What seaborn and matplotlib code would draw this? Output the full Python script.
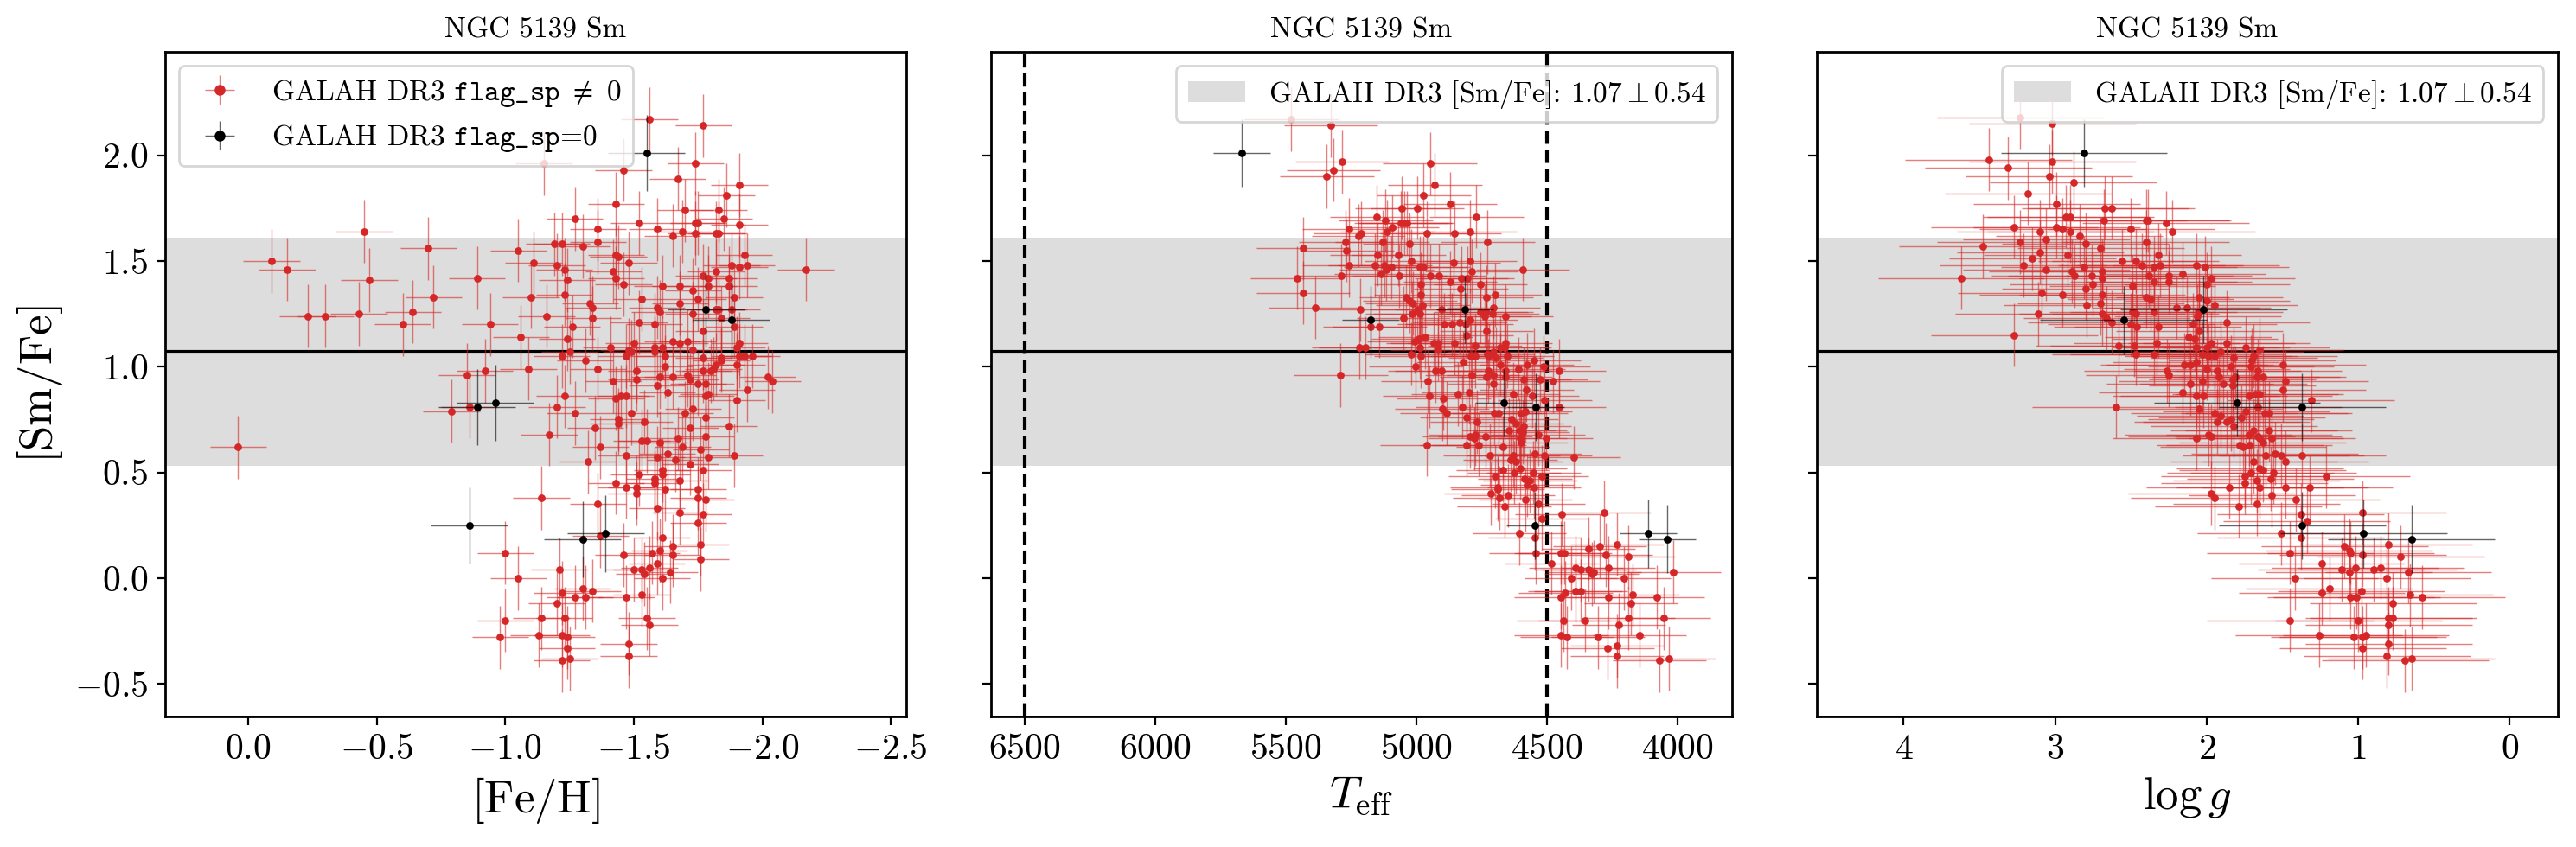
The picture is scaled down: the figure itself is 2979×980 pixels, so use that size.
import numpy as np
import pandas as pd
import matplotlib
matplotlib.use('Agg')
import matplotlib.pyplot as plt
import seaborn as sns
from matplotlib.colors import to_rgba
from matplotlib.lines import Line2D
from matplotlib.legend_handler import HandlerTuple

# ---- data ----
# GALAH DR3 mean [Sm/Fe] and spread
sm_mean = 1.07
sm_std = 0.54

# [Fe/H] vs [Sm/Fe], flag_sp != 0
feh_red = [
    (-1.56, 2.17), (-1.77, 2.14), (-1.15, 1.96), (-1.74, 1.96), (-1.46, 1.93), (-1.67, 1.89), (-1.91, 1.86),
    (-1.86, 1.81), (-1.43, 1.77), (-1.70, 1.74), (-1.83, 1.74), (-1.27, 1.70), (-1.85, 1.70), (-1.52, 1.68),
    (-1.74, 1.68), (-1.75, 1.68), (-1.91, 1.67), (-1.36, 1.65), (-1.59, 1.65), (-1.69, 1.64), (-1.74, 1.63),
    (-1.82, 1.63), (-1.83, 1.63), (-1.65, 1.62), (-0.45, 1.64), (-0.09, 1.50), (-0.15, 1.46), (-0.70, 1.56),
    (-0.47, 1.41), (-1.19, 1.58), (-1.22, 1.58), (-1.30, 1.57), (-1.36, 1.59), (-1.05, 1.55), (-1.11, 1.49),
    (-1.43, 1.53), (-1.44, 1.52), (-1.48, 1.49), (-1.93, 1.53), (-1.88, 1.48), (-1.91, 1.47), (-1.94, 1.48),
    (-2.17, 1.46), (-1.20, 1.48), (-1.23, 1.46), (-1.42, 1.45), (-1.82, 1.45), (-1.77, 1.43), (-1.79, 1.42),
    (-1.87, 1.42), (-1.43, 1.42), (-1.24, 1.41), (-0.89, 1.42), (-1.46, 1.39), (-1.61, 1.38), (-1.68, 1.38),
    (-1.79, 1.38), (-1.87, 1.38), (-1.73, 1.36), (-1.23, 1.34), (-1.10, 1.33), (-0.72, 1.33), (-1.89, 1.33),
    (-1.53, 1.32), (-1.75, 1.32), (-1.33, 1.30), (-1.34, 1.28), (-1.68, 1.30), (-1.59, 1.28), (-1.60, 1.26),
    (-1.82, 1.27), (-1.83, 1.27), (-1.88, 1.27), (-0.64, 1.26), (-0.23, 1.24), (-0.30, 1.24), (-0.43, 1.25),
    (-1.16, 1.24), (-1.73, 1.25), (-1.34, 1.23), (-1.84, 1.23), (-0.60, 1.20), (-0.94, 1.20), (-1.52, 1.21),
    (-1.58, 1.20), (-1.26, 1.19), (-1.89, 1.19), (-1.77, 1.17), (-1.06, 1.14), (-1.24, 1.13), (-1.65, 1.12),
    (-1.68, 1.11), (-1.71, 1.12), (-1.50, 1.11), (-1.91, 1.11), (-1.41, 1.09), (-1.58, 1.09), (-1.61, 1.09),
    (-1.73, 1.08), (-1.90, 1.09), (-1.25, 1.07), (-1.48, 1.08), (-1.49, 1.07), (-1.58, 1.07), (-1.22, 1.05),
    (-1.47, 1.05), (-1.62, 1.05), (-1.91, 1.05), (-1.93, 1.05), (-1.96, 1.05), (-1.77, 1.04), (-1.84, 1.04),
    (-1.31, 1.03), (-1.84, 1.03), (-1.82, 1.01), (-1.90, 1.01), (-1.62, 1.00), (-1.09, 0.99), (-1.36, 0.99),
    (-1.81, 0.99), (-1.51, 0.98), (-1.77, 0.98), (-1.80, 0.98), (-0.92, 0.98), (-0.85, 0.96), (-2.02, 0.95),
    (-2.04, 0.93), (-1.60, 0.95), (-1.51, 0.94), (-1.65, 0.95), (-1.71, 0.96), (-1.72, 0.94), (-1.42, 0.93),
    (-1.59, 0.91), (-1.75, 0.92), (-1.78, 0.92), (-1.94, 0.89), (-1.63, 0.88), (-1.23, 0.86), (-1.43, 0.85),
    (-1.45, 0.86), (-1.47, 0.86), (-1.78, 0.86), (-1.79, 0.87), (-1.90, 0.84), (-1.20, 0.81), (-0.79, 0.79),
    (-0.86, 0.81), (-1.27, 0.78), (-1.49, 0.78), (-1.70, 0.78), (-1.73, 0.80), (-1.78, 0.76), (-1.44, 0.75),
    (-1.54, 0.74), (-1.87, 0.72), (-1.35, 0.71), (-1.44, 0.73), (-1.72, 0.71),
    (0.04, 0.62), (-1.17, 0.68), (-1.37, 0.62), (-1.47, 0.58), (-1.55, 0.65), (-1.53, 0.65), (-1.60, 0.64),
    (-1.67, 0.66), (-1.69, 0.62), (-1.76, 0.61), (-1.78, 0.67), (-1.63, 0.59), (-1.59, 0.57), (-1.66, 0.56),
    (-1.79, 0.57), (-1.89, 0.58), (-1.72, 0.54), (-1.32, 0.55), (-1.61, 0.51), (-1.52, 0.49), (-1.61, 0.49),
    (-1.77, 0.51), (-1.58, 0.47), (-1.68, 0.46), (-1.43, 0.45), (-1.58, 0.45), (-1.47, 0.43), (-1.51, 0.43),
    (-1.62, 0.42), (-1.75, 0.42), (-1.51, 0.40), (-1.75, 0.38), (-1.14, 0.38), (-1.78, 0.37), (-1.36, 0.35),
    (-1.59, 0.33), (-1.68, 0.31), (-1.77, 0.30), (-1.75, 0.26), (-1.37, 0.20), (-1.61, 0.19), (-1.76, 0.16),
    (-1.65, 0.15), (-1.60, 0.13), (-1.46, 0.11), (-1.57, 0.12), (-1.00, 0.12), (-1.65, 0.11), (-1.76, 0.09),
    (-1.59, 0.07), (-1.50, 0.04), (-1.53, 0.04), (-1.54, 0.02), (-1.56, 0.05), (-1.64, 0.03), (-1.61, 0.00),
    (-1.21, 0.04), (-1.05, 0.00), (-1.30, -0.05), (-1.34, -0.06), (-1.22, -0.07), (-1.27, -0.09), (-1.31, -0.09),
    (-1.47, -0.09), (-1.53, -0.08), (-1.20, -0.12), (-1.00, -0.20), (-1.14, -0.19), (-1.23, -0.19), (-1.55, -0.19),
    (-1.56, -0.22), (-1.13, -0.27), (-0.98, -0.28), (-1.22, -0.27), (-1.24, -0.28), (-1.48, -0.31), (-1.24, -0.33),
    (-1.48, -0.37), (-1.25, -0.38), (-1.22, -0.39),
]

# Teff vs [Sm/Fe], flag_sp != 0
teff_red = [
    (5479, 2.17), (5327, 2.14), (5284, 1.97), (5317, 1.93), (5343, 1.90), (4947, 1.96), (4929, 1.86),
    (4972, 1.81), (4870, 1.77), (5055, 1.75), (4996, 1.75), (4770, 1.71), (5151, 1.71), (5118, 1.69),
    (5058, 1.68), (5045, 1.68), (5035, 1.68), (5092, 1.66), (5257, 1.65), (5111, 1.64), (5212, 1.63),
    (5221, 1.62), (4959, 1.63), (4854, 1.63), (4795, 1.64), (4727, 1.59), (5270, 1.59), (5266, 1.55),
    (5130, 1.59), (5433, 1.56), (5025, 1.58), (5149, 1.53), (5068, 1.53), (5019, 1.50), (5257, 1.48),
    (5158, 1.48), (5121, 1.48), (5097, 1.47), (5114, 1.46), (5134, 1.44), (4985, 1.47), (4974, 1.47),
    (4857, 1.49), (4795, 1.50), (4592, 1.46), (4787, 1.45), (5288, 1.43), (5064, 1.43), (4946, 1.43),
    (4913, 1.43), (5456, 1.42), (4983, 1.39), (4870, 1.40), (4827, 1.42), (4805, 1.42), (4754, 1.39),
    (4829, 1.37), (5433, 1.35), (4983, 1.34), (5039, 1.33), (4731, 1.33), (4699, 1.34), (5025, 1.31),
    (5014, 1.30), (5386, 1.28), (4975, 1.29), (5213, 1.27), (4995, 1.27), (4903, 1.27), (4704, 1.28),
    (4753, 1.26), (4731, 1.26), (5015, 1.25), (4985, 1.25), (4708, 1.25), (4738, 1.24), (4657, 1.24),
    (5049, 1.23), (4793, 1.22), (4833, 1.21), (4893, 1.20), (4862, 1.20), (5176, 1.19), (5141, 1.19),
    (4809, 1.20), (4731, 1.17), (4808, 1.15), (4965, 1.14), (5007, 1.12), (4991, 1.13), (4934, 1.11),
    (4918, 1.11), (4854, 1.11), (4658, 1.11), (4775, 1.10), (5219, 1.09), (5194, 1.09), (4985, 1.09),
    (4918, 1.08), (4677, 1.09), (4661, 1.09), (4703, 1.07), (5019, 1.06), (4982, 1.05), (4791, 1.05),
    (4775, 1.05), (4727, 1.06), (4722, 1.05), (4696, 1.04), (4653, 1.05), (4549, 1.03), (4820, 1.02),
    (4678, 1.01), (4576, 1.01), (5001, 1.00), (4608, 0.99), (4513, 1.00), (4453, 0.98), (4927, 0.98),
    (4902, 0.98), (4724, 0.98), (4659, 0.98), (5290, 0.96), (4786, 0.96), (4731, 0.95), (4705, 0.96),
    (4658, 0.95), (4588, 0.94), (4525, 0.94),
    (4955, 0.93), (4476, 0.93), (4705, 0.92), (4798, 0.88), (4578, 0.89), (4949, 0.86), (4896, 0.85),
    (4840, 0.87), (4628, 0.87), (4555, 0.86), (4508, 0.84), (4454, 0.81), (4823, 0.81), (4901, 0.80),
    (4883, 0.78), (4701, 0.78), (4683, 0.78), (4598, 0.78), (4582, 0.79), (4807, 0.76), (4635, 0.75),
    (4617, 0.73), (4767, 0.74), (4645, 0.70), (4604, 0.70), (4587, 0.72), (4592, 0.69), (4795, 0.67),
    (4773, 0.68), (4735, 0.67), (4777, 0.66), (4603, 0.66), (4600, 0.64), (4533, 0.68), (4504, 0.66),
    (4959, 0.63), (4807, 0.63), (4760, 0.63), (4668, 0.62), (4545, 0.59), (4508, 0.58), (4717, 0.58),
    (4396, 0.57), (4628, 0.58), (4639, 0.56), (4619, 0.55), (4668, 0.51), (4625, 0.50), (4602, 0.52),
    (4551, 0.50), (4519, 0.48), (4698, 0.48), (4584, 0.47), (4564, 0.46), (4575, 0.44), (4549, 0.43),
    (4689, 0.43), (4688, 0.42), (4714, 0.40), (4681, 0.38), (4648, 0.39), (4582, 0.37), (4532, 0.35),
    (4663, 0.34), (4443, 0.30), (4280, 0.31), (4519, 0.28), (4605, 0.21), (4545, 0.19), (4542, 0.12),
    (4446, 0.12), (4432, 0.12), (4340, 0.14), (4297, 0.15), (4231, 0.16), (4274, 0.11), (4188, 0.10),
    (4482, 0.07), (4389, 0.05), (4370, 0.04), (4339, 0.04), (4328, 0.02), (4319, 0.03), (4264, 0.05),
    (4014, 0.03), (4406, 0.00), (4204, 0.00), (4429, -0.07), (4391, -0.06), (4370, -0.06), (4445, -0.09),
    (4263, -0.09), (4171, -0.08), (4178, -0.12), (4077, -0.09), (4436, -0.20), (4353, -0.20), (4188, -0.19),
    (4052, -0.19), (4224, -0.22), (4445, -0.27), (4423, -0.28), (4304, -0.28), (4145, -0.27), (4267, -0.33),
    (4231, -0.32), (4231, -0.37), (4068, -0.39), (4032, -0.38),
]

# log g vs [Sm/Fe], flag_sp != 0
logg_red = [
    (3.23, 2.18), (3.02, 2.15), (3.44, 1.98), (3.02, 1.97), (3.31, 1.94), (3.04, 1.90), (2.88, 1.87),
    (3.18, 1.82), (2.99, 1.77), (2.67, 1.75), (2.63, 1.75), (2.93, 1.71), (2.90, 1.71), (2.68, 1.69),
    (2.40, 1.69), (2.39, 1.69), (2.27, 1.68), (3.27, 1.66), (2.99, 1.66), (2.95, 1.65), (3.10, 1.64),
    (2.90, 1.64), (2.50, 1.65), (2.23, 1.64), (2.84, 1.62), (3.23, 1.59), (3.06, 1.60), (2.80, 1.58),
    (2.40, 1.59), (3.48, 1.57), (2.70, 1.56), (3.10, 1.54), (2.92, 1.53), (2.32, 1.53), (2.56, 1.50),
    (2.47, 1.50), (2.43, 1.48), (2.35, 1.47), (2.31, 1.48), (3.21, 1.48), (3.15, 1.51), (3.06, 1.46),
    (2.81, 1.47), (2.07, 1.48), (2.01, 1.47), (2.89, 1.45), (2.87, 1.43), (2.76, 1.43), (2.69, 1.45),
    (2.69, 1.42), (2.38, 1.43), (2.25, 1.43), (2.16, 1.44), (1.97, 1.42), (3.62, 1.42), (2.75, 1.39),
    (2.49, 1.38), (2.35, 1.40), (2.25, 1.40), (2.00, 1.39), (2.80, 1.37), (3.09, 1.35), (2.95, 1.34),
    (2.69, 1.34), (2.40, 1.33), (2.37, 1.32), (2.05, 1.33), (2.70, 1.30), (2.00, 1.31), (2.79, 1.29),
    (2.20, 1.28), (2.13, 1.28), (1.95, 1.29), (2.49, 1.26), (2.05, 1.26), (3.11, 1.25), (2.69, 1.25),
    (2.66, 1.23), (2.47, 1.25), (2.35, 1.26), (2.06, 1.24), (2.63, 1.21), (2.50, 1.20), (2.46, 1.19),
    (2.32, 1.19), (2.09, 1.20), (2.05, 1.17), (1.87, 1.21), (3.27, 1.15), (2.12, 1.14), (2.08, 1.13),
    (2.58, 1.10), (2.48, 1.10), (2.33, 1.11), (2.07, 1.09), (2.00, 1.09), (1.97, 1.11), (1.87, 1.11),
    (1.74, 1.09), (1.65, 1.08), (1.91, 1.07), (2.47, 1.06), (2.35, 1.06), (2.03, 1.06), (1.99, 1.05),
    (1.69, 1.05), (1.95, 1.05), (1.82, 1.04), (1.70, 1.03), (2.07, 1.02), (2.15, 1.01), (2.11, 1.01),
    (1.50, 1.01), (1.84, 1.00), (1.71, 1.00), (2.26, 0.98), (2.00, 0.99), (1.93, 0.98), (1.66, 0.98),
    (2.25, 0.96), (1.92, 0.95), (1.81, 0.95), (1.67, 0.95), (1.63, 0.95), (1.83, 0.94),
    (2.60, 0.81), (2.16, 0.88), (2.11, 0.92), (2.07, 0.86), (2.03, 0.93), (2.02, 0.86), (2.05, 0.80),
    (1.95, 0.78), (1.91, 0.77), (1.93, 0.74), (1.89, 0.92), (1.83, 0.91), (1.87, 0.74), (1.84, 0.75),
    (1.82, 0.72), (1.77, 0.76), (1.74, 0.79), (1.72, 0.86), (1.68, 0.87), (1.65, 0.87), (1.66, 0.81),
    (1.62, 0.78), (1.59, 0.78), (1.50, 0.89), (1.48, 0.93), (1.31, 0.84), (1.59, 0.70), (1.57, 0.66),
    (2.07, 0.66), (1.99, 0.68), (1.97, 0.67), (1.72, 0.68), (1.69, 0.70), (1.66, 0.67), (1.65, 0.66),
    (1.63, 0.64), (1.78, 0.63), (1.76, 0.62), (1.72, 0.63), (1.61, 0.58), (1.55, 0.59), (1.51, 0.58),
    (1.48, 0.55), (1.37, 0.58), (1.69, 0.55), (1.65, 0.52), (1.63, 0.51), (1.71, 0.50), (1.56, 0.50),
    (1.75, 0.48), (1.58, 0.47), (1.75, 0.45), (1.67, 0.46), (1.85, 0.43), (1.65, 0.43), (1.48, 0.43),
    (1.32, 0.43), (1.21, 0.48), (1.97, 0.40), (1.95, 0.38), (1.57, 0.39), (1.41, 0.37), (1.79, 0.34),
    (1.67, 0.35), (1.38, 0.30), (1.34, 0.27), (0.97, 0.31), (1.51, 0.21), (1.38, 0.19), (1.45, 0.12),
    (1.09, 0.15), (1.06, 0.13), (1.05, 0.12), (0.80, 0.16), (0.97, 0.11), (0.72, 0.10), (1.24, 0.07),
    (1.11, 0.04), (1.06, 0.03), (1.02, 0.05), (0.90, 0.04), (0.85, 0.05), (0.67, 0.03), (1.42, 0.00),
    (0.81, 0.00), (1.24, -0.07), (1.19, -0.05), (0.98, -0.06), (1.05, -0.09), (1.01, -0.09), (0.77, -0.12),
    (0.66, -0.08), (0.58, -0.09), (1.45, -0.20), (1.00, -0.20), (0.80, -0.19), (0.77, -0.19), (0.80, -0.22),
    (1.26, -0.27), (1.03, -0.28), (0.97, -0.28), (0.95, -0.27), (0.97, -0.33), (0.80, -0.31), (0.81, -0.37),
    (0.69, -0.39), (0.65, -0.38),
]

# flag_sp == 0 stars (same stars in every panel)
smfe_blk = [2.01, 1.27, 1.22, 0.83, 0.81, 0.25, 0.21, 0.185]
feh_blk = [-1.55, -1.78, -1.88, -0.96, -0.89, -0.86, -1.39, -1.30]
teff_blk = [5668, 4813, 5174, 4664, 4542, 4545, 4111, 4039]
logg_blk = [2.81, 2.02, 2.55, 1.80, 1.37, 1.37, 0.965, 0.65]

# typical uncertainties (x, y) for each panel
err_red = {'feh': (0.11, 0.15), 'teff': (180, 0.15), 'logg': (0.55, 0.15)}
err_blk = {'feh': (0.15, 0.18), 'teff': (110, 0.16), 'logg': (0.55, 0.16)}

# ---- style ----
sns.set_style('ticks', {'axes.edgecolor': 'black', 'xtick.color': 'black', 'ytick.color': 'black',
                        'text.color': 'black', 'axes.labelcolor': 'black'})
plt.rcParams['font.family'] = ['cmr10', 'DejaVu Serif']
plt.rcParams['mathtext.fontset'] = 'cm'
plt.rcParams['axes.formatter.use_mathtext'] = True
plt.rcParams['axes.linewidth'] = 1.0

red = '#d62728'
red_err = to_rgba(red, 0.6)
blk_err = to_rgba('black', 0.6)

fig, axes = plt.subplots(1, 3, figsize=(14.895, 4.9), dpi=200, sharey=True)
fig.subplots_adjust(left=0.064, right=0.993, bottom=0.154, top=0.939, wspace=0.114)

panels = [
    ('feh', feh_red, feh_blk, r'$\mathrm{[Fe/H]}$', (0.325, -2.56)),
    ('teff', teff_red, teff_blk, r'$T_{\rm eff}$', (6630, 3790)),
    ('logg', logg_red, logg_blk, r'$\log g$', (4.574, -0.318)),
]

for i, (key, red_pts, blk_x, xlabel, xlim) in enumerate(panels):
    ax = axes[i]
    df_red = pd.DataFrame(red_pts, columns=['x', 'smfe'])
    df_blk = pd.DataFrame({'x': blk_x, 'smfe': smfe_blk})

    band = ax.axhspan(sm_mean - sm_std, sm_mean + sm_std, color='#dddddd', lw=0, zorder=0,
                      label=r'GALAH DR3 $\mathrm{[Sm/Fe]}$: $1.07\pm0.54$')
    ax.axhline(sm_mean, color='black', lw=1.5, zorder=1)

    eb_red = ax.errorbar(df_red['x'], df_red['smfe'], xerr=err_red[key][0], yerr=err_red[key][1],
                         fmt='none', ecolor=red_err, elinewidth=0.5, zorder=2)
    sns.scatterplot(data=df_red, x='x', y='smfe', ax=ax, color=red, s=10, linewidth=0, zorder=3)
    eb_blk = ax.errorbar(df_blk['x'], df_blk['smfe'], xerr=err_blk[key][0], yerr=err_blk[key][1],
                         fmt='none', ecolor=blk_err, elinewidth=0.5, zorder=4)
    sns.scatterplot(data=df_blk, x='x', y='smfe', ax=ax, color='black', s=10, linewidth=0, zorder=5)

    if key == 'teff':
        ax.axvline(6500, color='black', ls='--', lw=1.5, zorder=1)
        ax.axvline(4500, color='black', ls='--', lw=1.5, zorder=1)

    ax.set_xlim(*xlim)
    ax.set_ylim(-0.655, 2.49)
    ax.set_title('NGC 5139 Sm', fontsize=12)
    ax.set_xlabel(xlabel, fontsize=19)
    ax.set_ylabel(r'$\mathrm{[Sm/Fe]}$', fontsize=19)
    ax.tick_params(labelsize=15)

    if key == 'feh':
        h_red = (eb_red, Line2D([], [], marker='o', ls='', color=red, ms=3.5))
        h_blk = (eb_blk, Line2D([], [], marker='o', ls='', color='black', ms=3.5))
        ax.legend([h_red, h_blk],
                  [r'GALAH DR3 $\mathtt{flag\_sp}\ \neq\ 0$', r'GALAH DR3 $\mathtt{flag\_sp}$=0'],
                  handler_map={tuple: HandlerTuple(ndivide=1)}, loc='upper left', fontsize=12)
    else:
        ax.legend(handles=[band], loc='upper right', fontsize=12)

axes[0].set_yticks([-0.5, 0.0, 0.5, 1.0, 1.5, 2.0])
axes[0].set_xticks([0.0, -0.5, -1.0, -1.5, -2.0, -2.5])
axes[1].set_xticks([6500, 6000, 5500, 5000, 4500, 4000])
axes[2].set_xticks([4, 3, 2, 1, 0])

fig.savefig('out.png', dpi=200)
